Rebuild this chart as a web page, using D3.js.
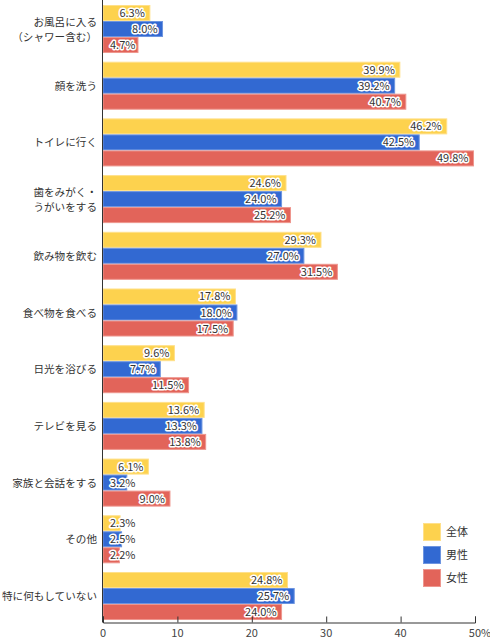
<!DOCTYPE html>
<html><head><meta charset="utf-8">
<script src="https://cdn.jsdelivr.net/npm/d3@7"></script>
<style>
body{margin:0;background:#fff;}
svg{display:block;font-family:"Noto Sans CJK JP","Noto Sans",sans-serif;}
</style></head>
<body><svg id="c" width="490" height="640"></svg>
<script>
const categories = [
  ["お風呂に入る","（シャワー含む）"],
  ["顔を洗う"],
  ["トイレに行く"],
  ["歯をみがく・","うがいをする"],
  ["飲み物を飲む"],
  ["食べ物を食べる"],
  ["日光を浴びる"],
  ["テレビを見る"],
  ["家族と会話をする"],
  ["その他"],
  ["特に何もしていない"]
];
const seriesNames = ["全体","男性","女性"];
const valuesAll    = [6.3, 39.9, 46.2, 24.6, 29.3, 17.8, 9.6, 13.6, 6.1, 2.3, 24.8];
const valuesMale   = [8.0, 39.2, 42.5, 24.0, 27.0, 18.0, 7.7, 13.3, 3.2, 2.5, 25.7];
const valuesFemale = [4.7, 40.7, 49.8, 25.2, 31.5, 17.5, 11.5, 13.8, 9.0, 2.2, 24.0];
const tickValues = [0, 10, 20, 30, 40, 50];
const tickLabels = ["0","10","20","30","40","50%"];
const colors = ["#FDD24E","#3269D2","#E2645A"];
const strokes = ["#FFE08A","#6E95E0","#EE968E"];

const series = [valuesAll, valuesMale, valuesFemale];
const svg = d3.select("#c");
const x = d3.scaleLinear().domain([0,50]).range([103,475]);
const y = d3.scaleBand().domain(d3.range(categories.length)).range([5,620]).paddingInner(0.153).paddingOuter(0);
const ys = d3.scaleBand().domain(d3.range(3)).range([0, y.bandwidth()]);

const g = svg.append("g");
categories.forEach((cat, i) => {
  const gg = g.append("g").attr("transform", `translate(0,${y(i)})`);
  series.forEach((vals, s) => {
    const v = vals[i];
    gg.append("rect")
      .attr("x", x(0)).attr("y", ys(s)+0.5)
      .attr("width", x(v)-x(0)).attr("height", ys.bandwidth()-1)
      .attr("fill", colors[s]).attr("stroke", strokes[s]).attr("stroke-width", 1);
  });
  const lines = cat;
  const cy = y(i) + y.bandwidth()/2;
  const t = svg.append("text").attr("text-anchor","end").attr("font-size",10.6).attr("fill","#333");
  lines.forEach((ln, k) => {
    t.append("tspan").attr("x", 97).attr("y", cy + (k - (lines.length-1)/2)*15 + 4).text(ln);
  });
});

// value labels
categories.forEach((cat, i) => {
  series.forEach((vals, s) => {
    const v = vals[i];
    const txt = v.toFixed(1) + "%";
    const ty = y(i) + ys(s) + ys.bandwidth()/2 + 4;
    const tmp = svg.append("text").attr("font-size",11).text(txt);
    const w = tmp.node().getComputedTextLength();
    tmp.remove();
    const endX = Math.max(x(v) - 5, x(0) + 7 + w);
    [true,false].forEach(halo => {
      svg.append("text").attr("x", endX).attr("y", ty).attr("text-anchor","end")
        .attr("font-size",11).attr("fill", halo? "#fff" : "#333")
        .attr("stroke", halo? "#fff":"none").attr("stroke-width", halo?3:0)
        .attr("stroke-linejoin","round").text(txt);
    });
  });
});

// axes
const axisY = 622.5;
svg.append("line").attr("x1", x(0)-0.5).attr("x2", x(0)-0.5).attr("y1", 0).attr("y2", axisY).attr("stroke","#333").attr("stroke-width",1);
const ax = svg.append("g").attr("transform", `translate(0,${axisY})`)
  .call(d3.axisTop(x).tickValues(tickValues).tickSize(6).tickFormat(() => ""));
ax.select(".domain").attr("stroke","#333");
ax.selectAll(".tick line").attr("stroke","#333");
svg.selectAll(".ticklbl").data(tickValues).enter().append("text")
  .attr("x", d => x(d) + (d===50 ? 5 : 0)).attr("y", 637).attr("text-anchor","middle")
  .attr("font-size",11).attr("fill","#444").text((d,i)=>tickLabels[i]);

// legend
seriesNames.forEach((n, s) => {
  svg.append("rect").attr("x", 423.5).attr("y", 523.5 + s*23).attr("width",17).attr("height",17)
    .attr("fill", colors[s]).attr("stroke", strokes[s]);
  svg.append("text").attr("x", 446).attr("y", 536 + s*23).attr("font-size",11).attr("fill","#333").text(n);
});
</script></body></html>
